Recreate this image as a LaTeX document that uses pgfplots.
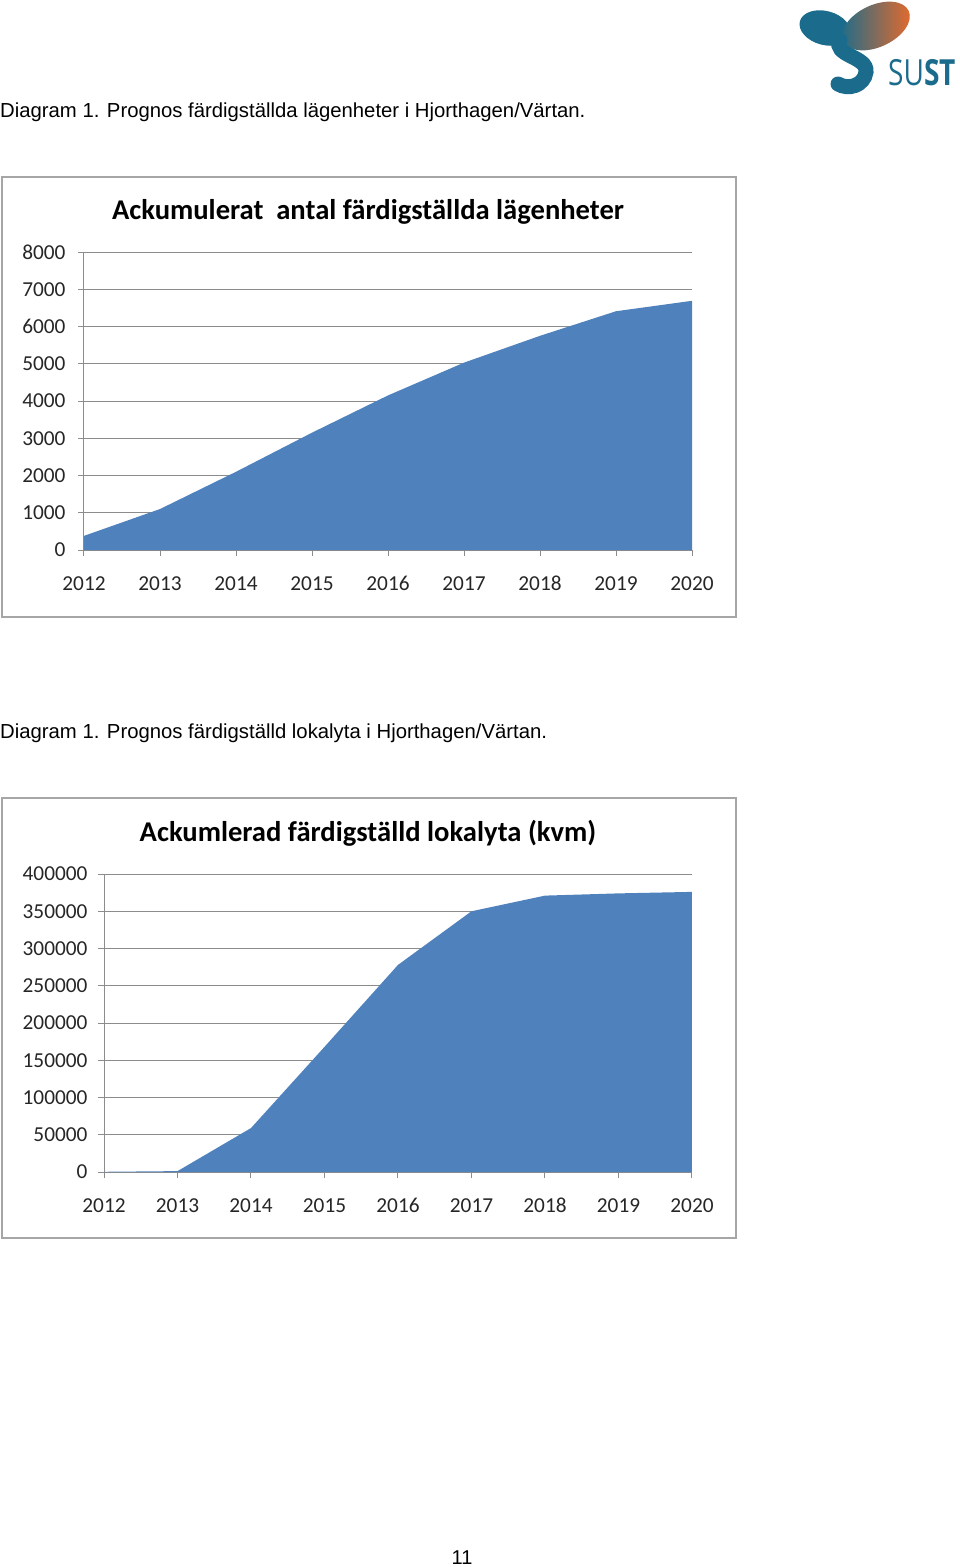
\documentclass[border=0pt]{standalone}
\usepackage{fontspec}
\setmainfont{Liberation Sans}
\newfontfamily\carlito{Carlito}
\newfontfamily\opensans{Open Sans}
\usepackage{pgfplots}
\pgfplotsset{compat=1.18}
\definecolor{areablue}{HTML}{4F81BD}
\definecolor{gridgray}{HTML}{8C8C8C}
\definecolor{boxgray}{HTML}{A6A6A6}
\definecolor{sustblue}{HTML}{1B6C8C}
\definecolor{sustorange}{HTML}{EA6A2A}

\pgfplotsset{
  excelarea/.style={
    scale only axis,
    xmin=2012, xmax=2020, ymin=0,
    axis lines*=left,
    axis line style={gridgray, line width=1pt},
    xtick={2012,2013,2014,2015,2016,2017,2018,2019,2020},
    xticklabels={2012,2013,2014,2015,2016,2017,2018,2019,2020},
    tick align=outside,
    major tick length=6pt,
    tick style={gridgray, line width=1pt},
    ymajorgrids,
    grid style={gridgray, line width=0.9pt},
    scaled y ticks=false,
    ticklabel style={font=\carlito\fontsize{21.3}{25}\selectfont, text=black!85},
    xticklabel style={yshift=-17pt, text height=14pt, text depth=0pt},
  }
}

\begin{document}
\begin{tikzpicture}
\path[use as bounding box] (0pt,0pt) rectangle (960pt,-1567pt);

% logo
\fill[sustblue, rotate around={-15:(825pt,-28pt)}] (825pt,-28pt) ellipse (26pt and 17pt);
\shade[left color=sustblue, right color=sustorange, rotate around={25:(876pt,-26pt)}] (876pt,-26pt) ellipse (36pt and 21pt);
\draw[sustblue, line width=15pt, line cap=round]
  (840pt,-40pt) .. controls (832pt,-56pt) and (868pt,-56pt) .. (866pt,-72pt)
  .. controls (864pt,-86pt) and (848pt,-90pt) .. (838pt,-84pt);
\node[anchor=base west, inner sep=0pt, text=sustblue, xscale=0.78] at (888pt,-85pt)
  {\opensans\fontsize{36}{40}\selectfont SU\textbf{ST}};

% captions
\node[anchor=base west, inner sep=0pt] at (0pt,-117pt)
  {\fontsize{20.3}{24}\selectfont Diagram 1. Prognos färdigställda lägenheter i Hjorthagen/Värtan.};
\node[anchor=base west, inner sep=0pt] at (0pt,-738pt)
  {\fontsize{20.3}{24}\selectfont Diagram 1. Prognos färdigställd lokalyta i Hjorthagen/Värtan.};
\node[anchor=base, inner sep=0pt] at (462pt,-1564pt)
  {\fontsize{20}{24}\selectfont 11};

% chart frames
\draw[boxgray, line width=1.6pt] (2pt,-177pt) rectangle (736pt,-617pt);
\draw[boxgray, line width=1.6pt] (2pt,-798pt) rectangle (736pt,-1238pt);

% titles
\node[inner sep=0pt] at (368pt,-212pt)
  {\carlito\bfseries\fontsize{28.6}{33}\selectfont Ackumulerat\ \ antal färdigställda lägenheter};
\node[inner sep=0pt] at (368pt,-833pt)
  {\carlito\bfseries\fontsize{28.6}{33}\selectfont Ackumlerad färdigställd lokalyta (kvm)};

% chart 1
\begin{axis}[excelarea,
  at={(84pt,-550pt)}, anchor=south west,
  width=608pt, height=298pt,
  ymax=8000, ytick={0,1000,2000,3000,4000,5000,6000,7000,8000},
  yticklabels={0,1000,2000,3000,4000,5000,6000,7000,8000},
  yticklabel style={xshift=-9pt},
]
\addplot[fill=areablue, draw=none] coordinates {
  (2012, 380) (2013, 1100) (2014, 2100) (2015, 3150) (2016, 4150)
  (2017, 5030) (2018, 5750) (2019, 6410) (2020, 6690)
} \closedcycle;
\end{axis}

% chart 2
\begin{axis}[excelarea,
  at={(104pt,-1172pt)}, anchor=south west,
  width=588pt, height=298pt,
  ymax=400000, ytick={0,50000,100000,150000,200000,250000,300000,350000,400000},
  yticklabels={0,50000,100000,150000,200000,250000,300000,350000,400000},
  yticklabel style={xshift=-7pt},
]
\addplot[fill=areablue, draw=none] coordinates {
  (2012, 300) (2013, 1200) (2014, 59000) (2015, 168000) (2016, 278000)
  (2017, 350000) (2018, 371000) (2019, 374000) (2020, 376000)
} \closedcycle;
\end{axis}
\end{tikzpicture}
\end{document}
